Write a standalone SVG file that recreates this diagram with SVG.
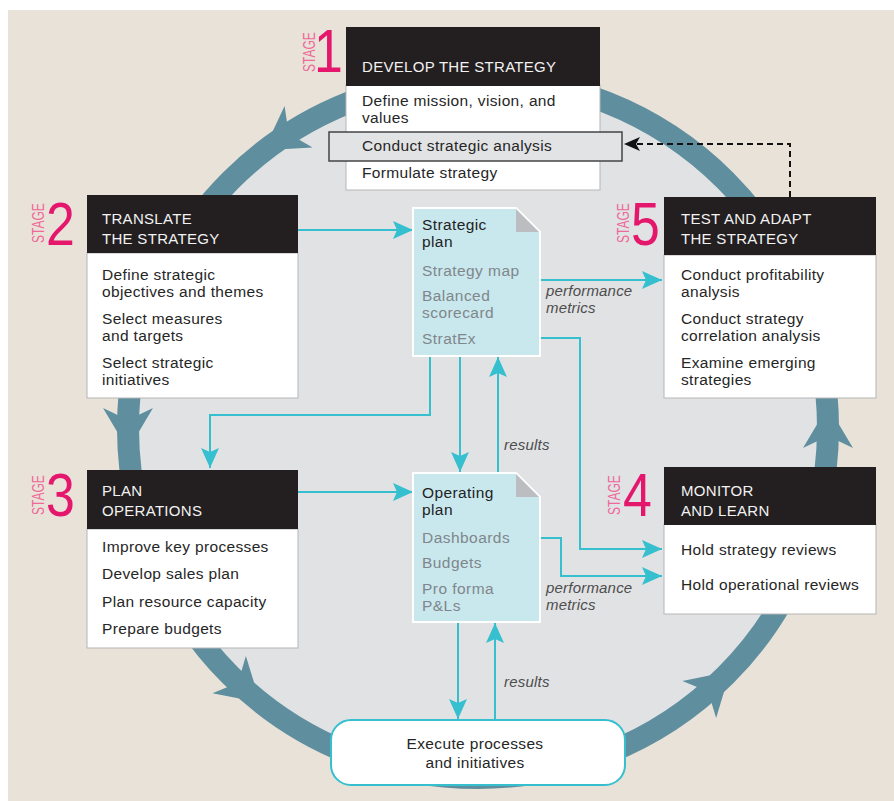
<svg xmlns="http://www.w3.org/2000/svg" width="894" height="801" viewBox="0 0 894 801">
<defs>
<style>
.hdr{font-family:"Liberation Sans",Arial,sans-serif;font-size:15px;fill:#f2f2f2;letter-spacing:0.3px}
.bd{font-family:"Liberation Sans",Arial,sans-serif;font-size:15.5px;fill:#262626;letter-spacing:0.35px}
.dt{font-family:"Liberation Sans",Arial,sans-serif;font-size:15.5px;fill:#222;letter-spacing:0.4px}
.dg{font-family:"Liberation Sans",Arial,sans-serif;font-size:15.5px;fill:#80868a;letter-spacing:0.45px}
.lb{font-family:"Liberation Sans",Arial,sans-serif;font-size:15px;font-style:italic;fill:#4d4d4d;letter-spacing:0.2px}
.stg{font-family:"Liberation Sans",Arial,sans-serif;font-size:16px;fill:#ee6a98}
.num{font-family:"Liberation Sans",Arial,sans-serif;font-size:61px;fill:#e5176d}
.head{fill:#231f20}
.body{fill:#fff;stroke:#b5b5b5;stroke-width:1}
.doc{fill:#c9e8ee;stroke:#fff;stroke-width:2}
.fold{fill:#bcbdc0}
.cn{fill:none;stroke:#35bfcf;stroke-width:2}
.rh{fill:#5f8f9f}
</style>
<marker id="ac" markerUnits="userSpaceOnUse" markerWidth="20" markerHeight="18" refX="20" refY="9" orient="auto">
<path d="M0,0 L20,9 L0,18 L4,9 Z" fill="#35bfcf"/>
</marker>
<marker id="ak" markerUnits="userSpaceOnUse" markerWidth="16" markerHeight="14" refX="16" refY="7" orient="auto">
<path d="M0,0 L16,7 L0,14 L4,7 Z" fill="#111"/>
</marker>
<path id="ringhead" d="M22,0 L-20,-25 L-8,0 L-20,25 Z"/>
</defs>

<rect x="0" y="0" width="894" height="801" fill="#fff"/>
<rect x="8" y="10" width="886" height="791" fill="#e9e2d9"/>

<g id="cycle">
<circle cx="478" cy="428" r="350" fill="#e1e2e4" stroke="#5f8f9f" stroke-width="22"/>
<use href="#ringhead" class="rh" transform="translate(282,138) rotate(146)"/>
<use href="#ringhead" class="rh" transform="translate(128,428) rotate(90)"/>
<use href="#ringhead" class="rh" transform="translate(244,688) rotate(42)"/>
<use href="#ringhead" class="rh" transform="translate(714,686) rotate(-42.5)"/>
<use href="#ringhead" class="rh" transform="translate(828,428) rotate(-90)"/>
</g>

<g id="connectors">
<path class="cn" d="M298,230 H413" marker-end="url(#ac)"/>
<path class="cn" d="M540,280 H662" marker-end="url(#ac)"/>
<path class="cn" d="M540,338 H580 V549 H662" marker-end="url(#ac)"/>
<path class="cn" d="M540,538 H561 V576 H662" marker-end="url(#ac)"/>
<path class="cn" d="M430,357 V415 H210 V468" marker-end="url(#ac)"/>
<path class="cn" d="M460,357 V472" marker-end="url(#ac)"/>
<path class="cn" d="M498,473 V357" marker-end="url(#ac)"/>
<path class="cn" d="M298,492 H413" marker-end="url(#ac)"/>
<path class="cn" d="M458,623 V719" marker-end="url(#ac)"/>
<path class="cn" d="M495,720 V623" marker-end="url(#ac)"/>
<path d="M790,197 V144 H624" fill="none" stroke="#111" stroke-width="2" stroke-dasharray="6,4" marker-end="url(#ak)"/>
<text class="lb" x="546" y="296">performance</text>
<text class="lb" x="546" y="313">metrics</text>
<text class="lb" x="546" y="593">performance</text>
<text class="lb" x="546" y="610">metrics</text>
<text class="lb" x="504" y="450">results</text>
<text class="lb" x="504" y="687">results</text>
</g>

<g id="stage1">
<rect class="body" x="346" y="85" width="254" height="105"/>
<rect class="head" x="346" y="27" width="254" height="59"/>
<text class="hdr" x="362" y="72">DEVELOP THE STRATEGY</text>
<text class="bd" x="362" y="106">Define mission, vision, and</text>
<text class="bd" x="362" y="123">values</text>
<rect x="329" y="132" width="293" height="29" fill="#e2e3e5" stroke="#444" stroke-width="1.5"/>
<text class="bd" x="362" y="151">Conduct strategic analysis</text>
<text class="bd" x="362" y="178">Formulate strategy</text>
<text class="stg" transform="translate(315,72) rotate(-90) scale(0.75,1)">STAGE</text>
<text class="num" transform="translate(314,72) scale(0.85,1)">1</text>
</g>

<g id="stage2">
<rect class="body" x="87" y="253" width="211" height="145"/>
<rect class="head" x="87" y="195" width="211" height="58"/>
<text class="hdr" x="102" y="224">TRANSLATE</text>
<text class="hdr" x="102" y="244">THE STRATEGY</text>
<text class="bd" x="102" y="280">Define strategic</text>
<text class="bd" x="102" y="297">objectives and themes</text>
<text class="bd" x="102" y="324">Select measures</text>
<text class="bd" x="102" y="341">and targets</text>
<text class="bd" x="102" y="368">Select strategic</text>
<text class="bd" x="102" y="385">initiatives</text>
<text class="stg" transform="translate(44,243) rotate(-90) scale(0.75,1)">STAGE</text>
<text class="num" transform="translate(46,245) scale(0.85,1)">2</text>
</g>

<g id="stage5">
<rect class="body" x="664" y="255" width="212" height="143"/>
<rect class="head" x="664" y="197" width="212" height="58"/>
<text class="hdr" x="681" y="224">TEST AND ADAPT</text>
<text class="hdr" x="681" y="244">THE STRATEGY</text>
<text class="bd" x="681" y="280">Conduct profitability</text>
<text class="bd" x="681" y="297">analysis</text>
<text class="bd" x="681" y="324">Conduct strategy</text>
<text class="bd" x="681" y="341">correlation analysis</text>
<text class="bd" x="681" y="368">Examine emerging</text>
<text class="bd" x="681" y="385">strategies</text>
<text class="stg" transform="translate(629,243) rotate(-90) scale(0.75,1)">STAGE</text>
<text class="num" transform="translate(631,245) scale(0.85,1)">5</text>
</g>

<g id="stage3">
<rect class="body" x="87" y="529" width="211" height="119"/>
<rect class="head" x="87" y="470" width="211" height="59"/>
<text class="hdr" x="102" y="496">PLAN</text>
<text class="hdr" x="102" y="516">OPERATIONS</text>
<text class="bd" x="102" y="552">Improve key processes</text>
<text class="bd" x="102" y="579">Develop sales plan</text>
<text class="bd" x="102" y="607">Plan resource capacity</text>
<text class="bd" x="102" y="634">Prepare budgets</text>
<text class="stg" transform="translate(44,515) rotate(-90) scale(0.75,1)">STAGE</text>
<text class="num" transform="translate(46,516) scale(0.85,1)">3</text>
</g>

<g id="stage4">
<rect class="body" x="664" y="524" width="212" height="90"/>
<rect class="head" x="664" y="467" width="212" height="58"/>
<text class="hdr" x="681" y="496">MONITOR</text>
<text class="hdr" x="681" y="516">AND LEARN</text>
<text class="bd" x="681" y="555">Hold strategy reviews</text>
<text class="bd" x="681" y="590">Hold operational reviews</text>
<text class="stg" transform="translate(620,515) rotate(-90) scale(0.75,1)">STAGE</text>
<text class="num" transform="translate(623,516) scale(0.85,1)">4</text>
</g>

<g id="strategic-plan">
<path class="doc" d="M413,208 H516 L540,232 V356 H413 Z"/>
<path class="fold" d="M516,209 V232 H539 Z"/>
<text class="dt" x="422" y="230">Strategic</text>
<text class="dt" x="422" y="247">plan</text>
<text class="dg" x="422" y="276">Strategy map</text>
<text class="dg" x="422" y="301">Balanced</text>
<text class="dg" x="422" y="318">scorecard</text>
<text class="dg" x="422" y="344">StratEx</text>
</g>

<g id="operating-plan">
<path class="doc" d="M413,473 H516 L540,497 V622 H413 Z"/>
<path class="fold" d="M516,474 V497 H539 Z"/>
<text class="dt" x="422" y="498">Operating</text>
<text class="dt" x="422" y="515">plan</text>
<text class="dg" x="422" y="543">Dashboards</text>
<text class="dg" x="422" y="568">Budgets</text>
<text class="dg" x="422" y="594">Pro forma</text>
<text class="dg" x="422" y="611">P&amp;Ls</text>
</g>

<g id="execute">
<rect x="331" y="720" width="294" height="65" rx="20" fill="#fff" stroke="#35bfcf" stroke-width="2"/>
<text class="bd" x="475" y="749" text-anchor="middle">Execute processes</text>
<text class="bd" x="475" y="768" text-anchor="middle">and initiatives</text>
</g>
</svg>
